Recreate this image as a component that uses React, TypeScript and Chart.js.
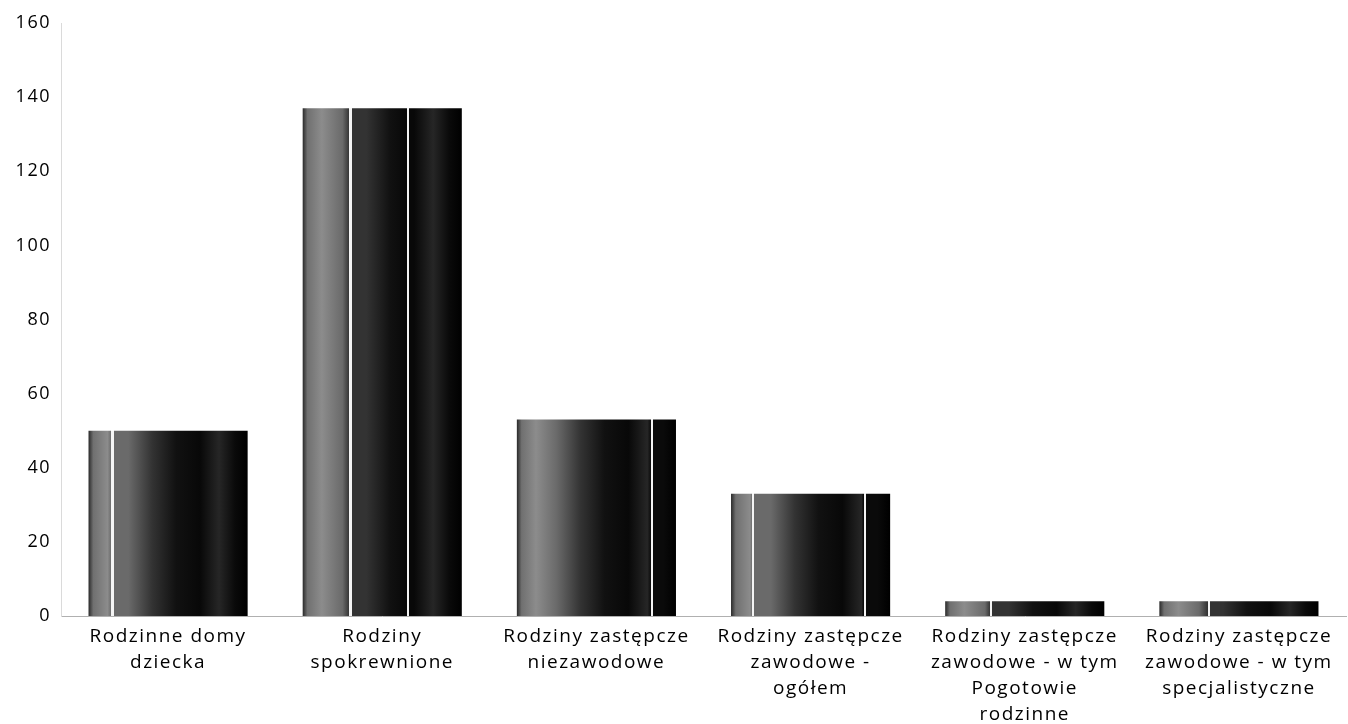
import React, { useEffect, useRef } from "react";
import { Chart, registerables } from "chart.js";

Chart.register(...registerables);

const categories: string[][] = [
  ["Rodzinne domy", "dziecka"],
  ["Rodziny", "spokrewnione"],
  ["Rodziny zastępcze", "niezawodowe"],
  ["Rodziny zastępcze", "zawodowe -", "ogółem"],
  ["Rodziny zastępcze", "zawodowe - w tym", "Pogotowie", "rodzinne"],
  ["Rodziny zastępcze", "zawodowe - w tym", "specjalistyczne"],
];
const values: number[] = [50, 137, 53, 33, 4, 4];
const yMin = 0;
const yMax = 160;
const yStep = 20;

// style: thin light streaks (scan artefacts) as fraction of bar width
const streaks: number[][] = [[0.15], [0.3, 0.66], [0.85], [0.14, 0.84], [0.29], [0.31]];
const BAR_FRACTION = 0.743;

const baseStops: [number, string][] = [
  [0, "#2a2a2a"],
  [0.03, "#707070"],
  [0.12, "#8c8c8c"],
  [0.25, "#6a6a6a"],
  [0.4, "#333333"],
  [0.55, "#111111"],
  [0.7, "#080808"],
  [0.82, "#262626"],
  [0.92, "#0a0a0a"],
  [1, "#000000"],
];

function colorAt(p: number): string {
  for (const st of baseStops) {
    if (st[0] >= p) return st[1];
  }
  return "#000000";
}

const spacingPlugin = {
  id: "letterSpacing",
  beforeDraw(chart: any) {
    chart.ctx.letterSpacing = "1.5px";
  },
  afterDraw(chart: any) {
    chart.ctx.letterSpacing = "0px";
  },
};

export default function App() {
  const ref = useRef<HTMLCanvasElement | null>(null);
  useEffect(() => {
    if (!ref.current) return;
    const chart = new Chart(ref.current, {
      type: "bar",
      plugins: [spacingPlugin],
      data: {
        labels: categories,
        datasets: [
          {
            data: values,
            borderWidth: 0,
            categoryPercentage: 1,
            barPercentage: BAR_FRACTION,
            backgroundColor: (ctx: any) => {
              const c = ctx.chart;
              const area = c.chartArea;
              if (!area || ctx.type !== "data") return "#222";
              const xs = c.scales.x;
              const cx = xs.getPixelForValue(ctx.dataIndex);
              const w = ((area.right - area.left) / categories.length) * BAR_FRACTION;
              const g = c.ctx.createLinearGradient(cx - w / 2, 0, cx + w / 2, 0);
              const final: [number, string][] = [...baseStops];
              (streaks[ctx.dataIndex] || []).forEach((p) => {
                final.push([Math.max(0, p - 0.0071), colorAt(p)]);
                final.push([p - 0.007, "#f4f4f4"]);
                final.push([p + 0.007, "#f4f4f4"]);
                final.push([Math.min(1, p + 0.0071), colorAt(p)]);
              });
              final.sort((a, b) => a[0] - b[0]);
              final.forEach(([p, col]) => g.addColorStop(Math.min(1, Math.max(0, p)), col));
              return g;
            },
          },
        ],
      },
      options: {
        responsive: true,
        maintainAspectRatio: false,
        animation: false,
        layout: { padding: { left: 0, top: 23, right: 2, bottom: 0 } },
        plugins: {
          legend: { display: false },
          tooltip: { enabled: false },
        },
        scales: {
          x: {
            grid: { display: false, drawTicks: false },
            border: { display: true, color: "#b0b0b0", dash: [1, 3], width: 1 },
            ticks: {
              color: "#000",
              padding: 8,
              maxRotation: 0,
              autoSkip: false,
              font: { family: "'Open Sans', sans-serif", size: 19, lineHeight: 26 / 19 },
            },
            afterFit: (scale: any) => {
              scale.height = 108;
              scale.paddingLeft = 0;
              scale.paddingRight = 0;
            },
          },
          y: {
            min: yMin,
            max: yMax,
            grid: { display: false, drawTicks: false },
            border: { display: true, color: "#dadada", dash: [1, 5], width: 1 },
            ticks: {
              stepSize: yStep,
              color: "#000",
              padding: 10,
              font: { family: "'Open Sans', sans-serif", size: 18 },
            },
            afterFit: (scale: any) => {
              scale.width = 61;
            },
          },
        },
      },
    });
    return () => chart.destroy();
  }, []);
  return (
    <div style={{ position: "fixed", left: 0, top: 0, width: 1348, height: 724, background: "#fff" }}>
      <canvas ref={ref} />
    </div>
  );
}
